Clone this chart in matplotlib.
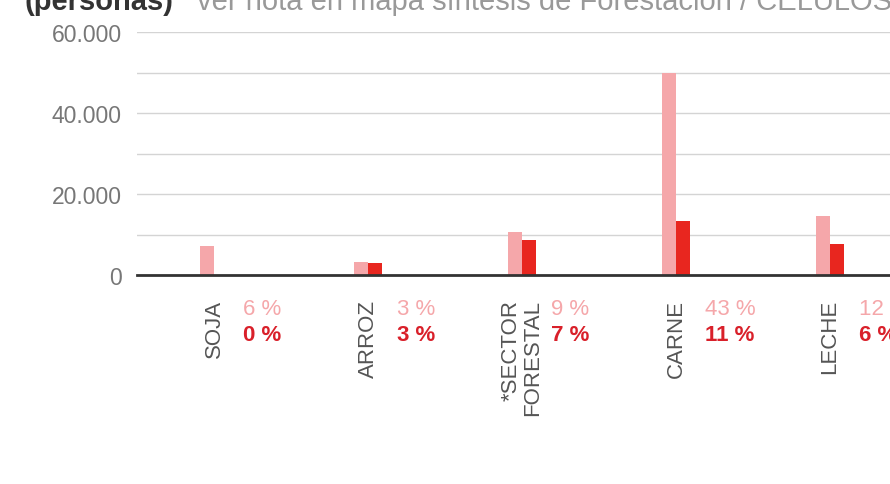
import numpy as np
import matplotlib.pyplot as plt
from matplotlib.ticker import FuncFormatter, MultipleLocator

plt.rcParams['font.family'] = ['Liberation Sans', 'DejaVu Sans']

# datos
categorias = ['SOJA', 'ARROZ', '*SECTOR\nFORESTAL', 'CARNE', 'LECHE']
valores_claro = [7200, 3300, 10600, 50000, 14600]
valores_oscuro = [0, 3000, 8600, 13300, 7700]
pct_claro = ['6 %', '3 %', '9 %', '43 %', '12 %']
pct_oscuro = ['0 %', '3 %', '7 %', '11 %', '6 %']

c_claro = '#f5a7aa'
c_oscuro = '#e8261f'

fig = plt.figure(figsize=(8.9, 4.85), dpi=100)
ax = fig.add_axes([137/890, 209/485, 1 - 137/890, 243/485])

x = np.arange(len(categorias))
w = 0.094
ax.bar(x - w/2, valores_claro, w, color=c_claro, zorder=2)
ax.bar(x + w/2, valores_oscuro, w, color=c_oscuro, zorder=2)

ax.set_xlim(-0.5, (890 - 137) / 154 - 0.5)
ax.set_ylim(0, 60000)
ax.yaxis.set_major_locator(MultipleLocator(20000))
ax.yaxis.set_minor_locator(MultipleLocator(10000))
ax.yaxis.set_major_formatter(FuncFormatter(lambda v, p: f'{int(v):,}'.replace(',', '.')))
ax.grid(axis='y', which='both', color='#d4d4d4', lw=1, zorder=0)
ax.tick_params(axis='y', which='both', length=0, pad=11, labelsize=16.5, labelcolor='#777777')
ax.set_xticks([])
for s in ['top', 'right', 'left']:
    ax.spines[s].set_visible(False)
ax.spines['bottom'].set_color('#333333')
ax.spines['bottom'].set_linewidth(2)
ax.spines['bottom'].set_zorder(3)

for i, cat in enumerate(categorias):
    ax.annotate(cat, (i, 0), xycoords=('data', 'axes fraction'),
                xytext=(0, -24), textcoords='offset pixels',
                rotation=90, ha='center', va='top', multialignment='right',
                fontsize=16, color='#555555', linespacing=1.0)
    ax.annotate(pct_claro[i], (i, 0), xycoords=('data', 'axes fraction'),
                xytext=(29, -34), textcoords='offset pixels',
                ha='left', va='center', fontsize=16, color=c_claro)
    ax.annotate(pct_oscuro[i], (i, 0), xycoords=('data', 'axes fraction'),
                xytext=(29, -60), textcoords='offset pixels',
                ha='left', va='center', fontsize=16, color='#d9202a', fontweight='bold')

fig.text(25/890, 1 - 10/485, '(personas)', fontsize=21, fontweight='bold',
         color='#333333', ha='left', va='baseline')
fig.text(197/890, 1 - 10/485, 'ver nota en mapa síntesis de Forestación / CELULOSA',
         fontsize=21, color='#999999', ha='left', va='baseline')

fig.savefig('out.png', dpi=100)
